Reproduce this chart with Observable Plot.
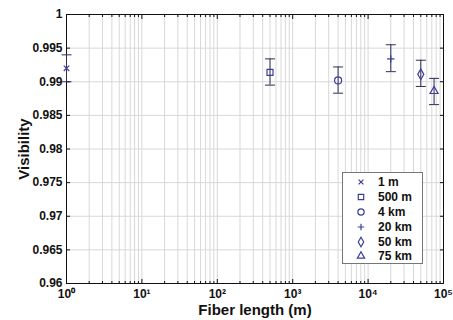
<!DOCTYPE html>
<html><head><meta charset="utf-8">
<script src="https://cdn.jsdelivr.net/npm/d3@7"></script>
<script src="https://cdn.jsdelivr.net/npm/@observablehq/plot@0.6"></script>
<style>
body{margin:0;background:#fff;font-family:"Liberation Sans",Arial,sans-serif;}
#wrap{position:relative;width:453px;height:320px;}
#legend{position:absolute;left:342px;top:172px;width:81px;height:92px;box-sizing:border-box;border:1px solid #777;background:#fff;padding-top:1.5px;}
.row{display:flex;align-items:center;height:14.9px;font-weight:bold;font-size:12px;color:#111;}
.row svg{margin-left:12px;margin-right:11px;}
</style></head><body><div id="wrap"></div>
<script>
// Data
const labels = ["1 m", "500 m", "4 km", "20 km", "50 km", "75 km"];
const lengths = [1, 500, 4000, 20000, 50000, 75000];
const visibility = [0.992, 0.9914, 0.9902, 0.9934, 0.9911, 0.9886];
const errLow = [0.990, 0.9895, 0.9883, 0.9915, 0.9893, 0.9866];
const errHigh = [0.994, 0.9934, 0.9922, 0.9955, 0.9932, 0.9905];
const symbols = ["times", "square", "circle", "plus", "diamond", "triangle"];
const majorTicks = [1, 10, 100, 1000, 10000, 100000];
const yTicks = [0.96, 0.965, 0.97, 0.975, 0.98, 0.985, 0.99, 0.995, 1];
const minorTicks = [1, 10, 100, 1000, 10000].flatMap(b => [2,3,4,5,6,7,8,9].map(m => m * b));

const data = labels.map((label, i) => ({label, x: lengths[i], v: visibility[i], lo: errLow[i], hi: errHigh[i]}));

// styles
const markerColor = "#3d3d99";
const errColor = "#2e2e55";
const gridColor = "#d8d8d8";
const symbolRadius = {times: 2.6, square: 3.4, circle: 3.5, plus: 2.5, diamond: 3.2, triangle: 3.0};

const sup = {"0":"\u2070","1":"\u00b9","2":"\u00b2","3":"\u00b3","4":"\u2074","5":"\u2075"};
const fmtX = d => "10" + sup[String(Math.round(Math.log10(d)))];
const cap = {draw(ctx, size){ const w = Math.sqrt(size / Math.PI); ctx.moveTo(-w, 0); ctx.lineTo(w, 0); }};
const blank = () => "";

const chart = Plot.plot({
  width: 453, height: 320,
  marginLeft: 66, marginRight: 10, marginTop: 14, marginBottom: 37,
  x: {type: "log", domain: [1, 1e5]},
  y: {domain: [0.96, 1]},
  symbol: {domain: labels, range: symbols},
  style: {fontFamily: "Liberation Sans, Arial, sans-serif", fontWeight: "bold", fontSize: "12px", color: "#111", background: "white"},
  marks: [
    Plot.gridX(minorTicks, {stroke: gridColor, strokeOpacity: 1}),
    Plot.gridX(majorTicks, {stroke: gridColor, strokeOpacity: 1}),
    Plot.gridY(yTicks, {stroke: gridColor, strokeOpacity: 1}),
    Plot.axisX(minorTicks, {tickSize: -2, tickFormat: blank, label: null}),
    Plot.axisX(minorTicks, {anchor: "top", tickSize: -2, tickFormat: blank, label: null}),
    Plot.axisX(majorTicks, {anchor: "top", tickSize: -4, tickFormat: blank, label: null}),
    Plot.axisX(majorTicks, {tickSize: -4, tickPadding: 10, tickFormat: fmtX, fontSize: 12,
      label: "Fiber length (m)", labelAnchor: "center", labelArrow: "none", labelOffset: 31}),
    Plot.axisY(yTicks, {anchor: "right", tickSize: -4, tickFormat: blank, label: null}),
    Plot.axisY(yTicks, {tickSize: -4, tickPadding: 8, tickFormat: d => String(d), fontSize: 12,
      label: "Visibility", labelAnchor: "center", labelArrow: "none", labelOffset: 48}),
    Plot.frame({stroke: "#111"}),
    Plot.ruleX(data, {x: "x", y1: "lo", y2: "hi", stroke: errColor, strokeWidth: 1, clip: false}),
    Plot.dot(data, {x: "x", y: "lo", symbol: cap, r: 5, stroke: errColor, strokeWidth: 1}),
    Plot.dot(data, {x: "x", y: "hi", symbol: cap, r: 5, stroke: errColor, strokeWidth: 1}),
    ...data.map((d, i) => Plot.dot([d], {x: "x", y: "v", symbol: "label", r: symbolRadius[symbols[i]], stroke: markerColor, fill: "none", strokeWidth: 1.2}))
  ]
});
chart.querySelectorAll("g[aria-label='x-axis label'] text, g[aria-label='y-axis label'] text").forEach(t => t.setAttribute("font-size", "15"));
const wrap = document.getElementById("wrap");
wrap.appendChild(chart);

// Legend
const legend = document.createElement("div");
legend.id = "legend";
const symMap = {times: d3.symbolTimes, square: d3.symbolSquare, circle: d3.symbolCircle, plus: d3.symbolPlus, diamond: d3.symbolDiamond, triangle: d3.symbolTriangle};
labels.forEach((label, i) => {
  const row = document.createElement("div");
  row.className = "row";
  const r = symbolRadius[symbols[i]] * 0.9;
  const path = d3.symbol(symMap[symbols[i]], Math.PI * r * r)();
  row.innerHTML = `<svg width="12" height="12" viewBox="-6 -6 12 12"><path d="${path}" fill="none" stroke="${markerColor}" stroke-width="1.2"/></svg><span>${label}</span>`;
  legend.appendChild(row);
});
wrap.appendChild(legend);
</script>
</body></html>
